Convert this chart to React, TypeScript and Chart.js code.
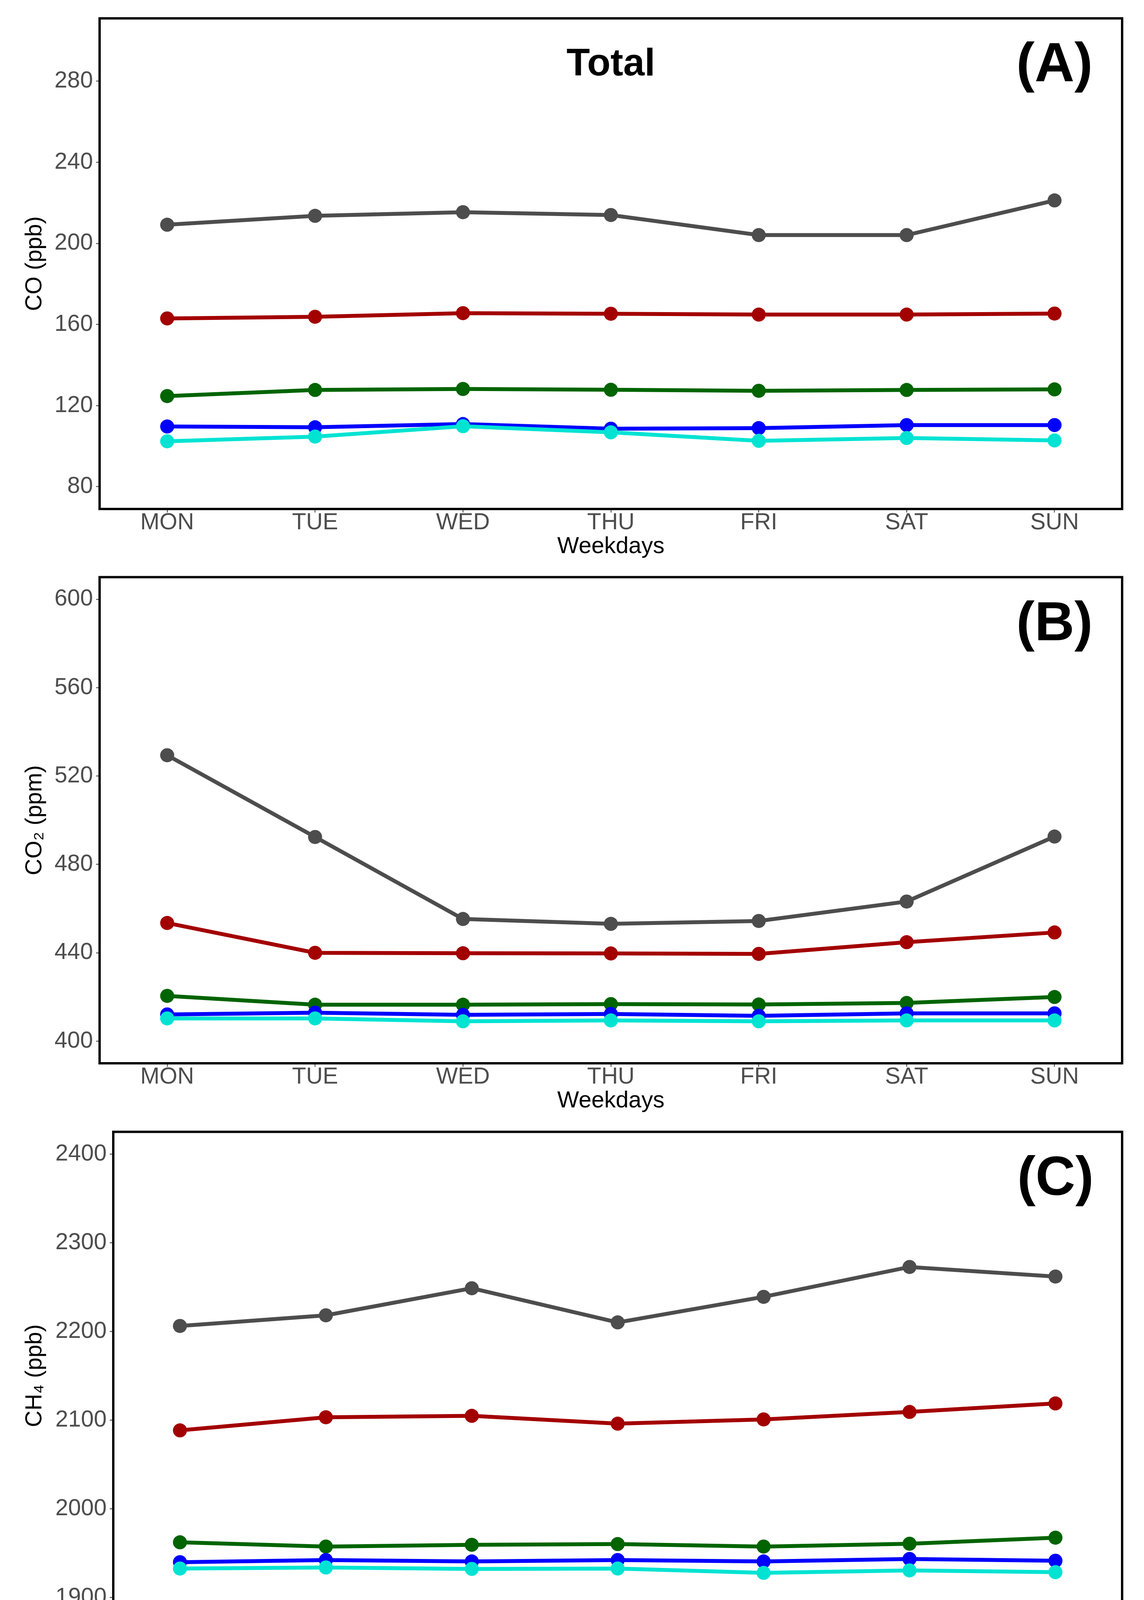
import React, { useEffect, useRef } from 'react';
import { Chart, registerables } from 'chart.js';

Chart.register(...registerables);

// ---------- data ----------
const DAYS = ['MON', 'TUE', 'WED', 'THU', 'FRI', 'SAT', 'SUN'];

const CO_GREY = [209.2, 213.6, 215.4, 214.0, 204.1, 204.1, 221.2];
const CO_RED = [163.0, 163.8, 165.6, 165.3, 164.9, 164.9, 165.4];
const CO_GREEN = [124.7, 127.7, 128.2, 127.8, 127.3, 127.7, 128.0];
const CO_BLUE = [109.7, 109.3, 110.9, 108.6, 108.9, 110.4, 110.4];
const CO_CYAN = [102.4, 104.7, 109.8, 106.8, 102.6, 104.0, 102.8];
const CO_TICKS = [80, 120, 160, 200, 240, 280];

const CO2_GREY = [529.4, 492.4, 455.3, 453.1, 454.4, 463.2, 492.6];
const CO2_RED = [453.5, 440.0, 439.8, 439.7, 439.5, 444.8, 449.2];
const CO2_GREEN = [420.5, 416.5, 416.5, 416.8, 416.6, 417.3, 420.0];
const CO2_BLUE = [412.1, 412.9, 411.9, 412.3, 411.5, 412.6, 412.6];
const CO2_CYAN = [410.3, 410.3, 409.0, 409.4, 409.0, 409.4, 409.4];
const CO2_TICKS = [400, 440, 480, 520, 560, 600];

const CH4_GREY = [2206.1, 2218.1, 2248.6, 2210.1, 2238.9, 2272.6, 2261.8];
const CH4_RED = [2088.3, 2103.1, 2104.7, 2095.9, 2100.7, 2109.1, 2118.7];
const CH4_GREEN = [1962.1, 1957.3, 1959.3, 1960.1, 1957.3, 1960.5, 1967.3];
const CH4_BLUE = [1939.7, 1942.1, 1940.5, 1942.1, 1940.5, 1943.3, 1941.3];
const CH4_CYAN = [1932.5, 1933.7, 1932.1, 1932.5, 1927.6, 1930.4, 1928.4];
const CH4_TICKS = [1900, 2000, 2100, 2200, 2300, 2400];

const SO2_GREY = [0.1154, 0.1294, 0.158, 0.1664, 0.174, 0.1357, 0.0808];
const SO2_RED = [0.1381, 0.1425, 0.1549, 0.1537, 0.1509, 0.1417, 0.1222];
const SO2_GREEN = [0.2106, 0.2038, 0.2225, 0.2293, 0.2301, 0.2026, 0.2106];
const SO2_BLUE = [0.2178, 0.2201, 0.2265, 0.2373, 0.2293, 0.2186, 0.2054];
const SO2_CYAN = [0.1417, 0.1457, 0.1696, 0.1529, 0.1365, 0.1572, 0.1485];
const SO2_TICKS = [0.0, 0.1, 0.2, 0.3, 0.4, 0.5];

// ---------- styles ----------
const C_GREY = '#4D4D4D';
const C_RED = '#A30000';
const C_GREEN = '#006400';
const C_BLUE = '#0000FF';
const C_CYAN = '#00E3D3';
const FONT = "'Liberation Sans', Arial, sans-serif";
const X_AXIS_H = 126;
const X_EXP = 0.457;

type PanelCfg = {
  canvasTop: number;
  padTop: number;
  left: number;
  height: number;
  yMin: number;
  yMax: number;
  ticks: number[];
  fmt: (v: number) => string;
  yTitle: string;
  letter: string;
  title?: string;
  series: { values: number[]; color: string; order: number }[];
};

const mkSeries = (g: number[], r: number[], gr: number[], b: number[], c: number[]) => [
  { values: g, color: C_GREY, order: 5 },
  { values: r, color: C_RED, order: 4 },
  { values: gr, color: C_GREEN, order: 3 },
  { values: b, color: C_BLUE, order: 2 },
  { values: c, color: C_CYAN, order: 1 },
];

const PANELS: PanelCfg[] = [
  {
    canvasTop: 0, padTop: 47, left: 255, height: 1303 + X_AXIS_H,
    yMin: 69, yMax: 311, ticks: CO_TICKS, fmt: (v) => String(Math.round(v)),
    yTitle: 'CO (ppb)', letter: '(A)', title: 'Total',
    series: mkSeries(CO_GREY, CO_RED, CO_GREEN, CO_BLUE, CO_CYAN),
  },
  {
    canvasTop: 1440, padTop: 23, left: 255, height: 2722 - 1440 + X_AXIS_H,
    yMin: 390, yMax: 610, ticks: CO2_TICKS, fmt: (v) => String(Math.round(v)),
    yTitle: 'CO\u2082 (ppm)', letter: '(B)',
    series: mkSeries(CO2_GREY, CO2_RED, CO2_GREEN, CO2_BLUE, CO2_CYAN),
  },
  {
    canvasTop: 2860, padTop: 20, left: 290, height: 4146 - 2860 + X_AXIS_H,
    yMin: 1875, yMax: 2425, ticks: CH4_TICKS, fmt: (v) => String(Math.round(v)),
    yTitle: 'CH\u2084 (ppb)', letter: '(C)',
    series: mkSeries(CH4_GREY, CH4_RED, CH4_GREEN, CH4_BLUE, CH4_CYAN),
  },
  {
    canvasTop: 4275, padTop: 22, left: 239, height: 5557 - 4275 + X_AXIS_H,
    yMin: -0.025, yMax: 0.525, ticks: SO2_TICKS, fmt: (v) => v.toFixed(1),
    yTitle: 'SO\u2082 (ppb)', letter: '(D)',
    series: mkSeries(SO2_GREY, SO2_RED, SO2_GREEN, SO2_BLUE, SO2_CYAN),
  },
];

function Panel({ cfg }: { cfg: PanelCfg }) {
  const ref = useRef<HTMLCanvasElement>(null);

  useEffect(() => {
    const canvas = ref.current;
    if (!canvas) return;

    const framePlugin = {
      id: 'frame',
      afterDatasetsDraw(chart: any) {
        const { ctx, chartArea } = chart;
        const { left, right, top, bottom } = chartArea;
        ctx.save();
        ctx.strokeStyle = '#000000';
        ctx.lineWidth = 6;
        ctx.strokeRect(left, top, right - left, bottom - top);
        const xs = chart.scales.x;
        ctx.fillStyle = '#000000';
        ctx.textAlign = 'center';
        ctx.textBaseline = 'alphabetic';
        ctx.font = `bold 141px ${FONT}`;
        ctx.fillText(cfg.letter, xs.getPixelForValue(7), top + 161);
        if (cfg.title) {
          ctx.font = `bold 98px ${FONT}`;
          ctx.fillText(cfg.title, (left + right) / 2, top + 146);
        }
        ctx.restore();
      },
    };

    const chart = new Chart(canvas, {
      type: 'line',
      data: {
        datasets: cfg.series.map((s) => ({
          data: s.values.map((v, j) => ({ x: j + 1, y: v })),
          borderColor: s.color,
          backgroundColor: s.color,
          pointBackgroundColor: s.color,
          pointBorderColor: s.color,
          borderWidth: 10,
          pointRadius: 18,
          pointHoverRadius: 18,
          pointBorderWidth: 0,
          tension: 0,
          order: s.order,
          clip: false,
        })),
      },
      options: {
        responsive: false,
        animation: false,
        devicePixelRatio: 1,
        events: [],
        layout: { padding: { top: cfg.padTop, right: 56, left: 0, bottom: 0 } },
        plugins: {
          legend: { display: false },
          tooltip: { enabled: false },
          title: { display: false },
        },
        scales: {
          x: {
            type: 'linear',
            min: 1 - X_EXP,
            max: 7 + X_EXP,
            afterBuildTicks: (s: any) => {
              s.ticks = DAYS.map((_, i) => ({ value: i + 1 }));
            },
            afterFit: (s: any) => {
              s.height = X_AXIS_H;
            },
            ticks: {
              autoSkip: false,
              maxRotation: 0,
              minRotation: 0,
              padding: -3,
              color: C_GREY,
              font: { family: FONT, size: 59, lineHeight: 1 },
              callback: (v: any) => DAYS[Math.round(Number(v)) - 1] ?? '',
            },
            grid: {
              display: true,
              drawOnChartArea: false,
              drawTicks: true,
              tickLength: 9,
              tickColor: '#333333',
              tickWidth: 2,
            },
            border: { display: false },
            title: {
              display: true,
              text: 'Weekdays',
              color: '#000000',
              font: { family: FONT, size: 59, lineHeight: 1 },
              padding: { top: 0, bottom: 0 },
            },
          },
          y: {
            type: 'linear',
            min: cfg.yMin,
            max: cfg.yMax,
            afterBuildTicks: (s: any) => {
              s.ticks = cfg.ticks.map((v) => ({ value: v }));
            },
            afterFit: (s: any) => {
              s.width = cfg.left;
            },
            ticks: {
              autoSkip: false,
              padding: 8,
              color: C_GREY,
              font: { family: FONT, size: 59, lineHeight: 1 },
              callback: (v: any) => cfg.fmt(Number(v)),
            },
            grid: {
              display: true,
              drawOnChartArea: false,
              drawTicks: true,
              tickLength: 9,
              tickColor: '#333333',
              tickWidth: 2,
            },
            border: { display: false },
            title: {
              display: true,
              text: cfg.yTitle,
              color: '#000000',
              font: { family: FONT, size: 59, lineHeight: 1 },
              padding: { top: 60, bottom: 0 },
            },
          },
        },
      } as any,
      plugins: [framePlugin],
    });

    return () => chart.destroy();
  }, [cfg]);

  return (
    <canvas
      ref={ref}
      width={2929}
      height={cfg.height}
      style={{
        position: 'absolute',
        left: 0,
        top: cfg.canvasTop,
        width: 2929,
        height: cfg.height,
        display: 'block',
      }}
    />
  );
}

export default function App() {
  return (
    <div
      style={{
        position: 'relative',
        margin: -8,
        width: 2929,
        height: 5734,
        background: '#ffffff',
        overflow: 'hidden',
      }}
    >
      {PANELS.map((p, i) => (
        <Panel key={i} cfg={p} />
      ))}
    </div>
  );
}
